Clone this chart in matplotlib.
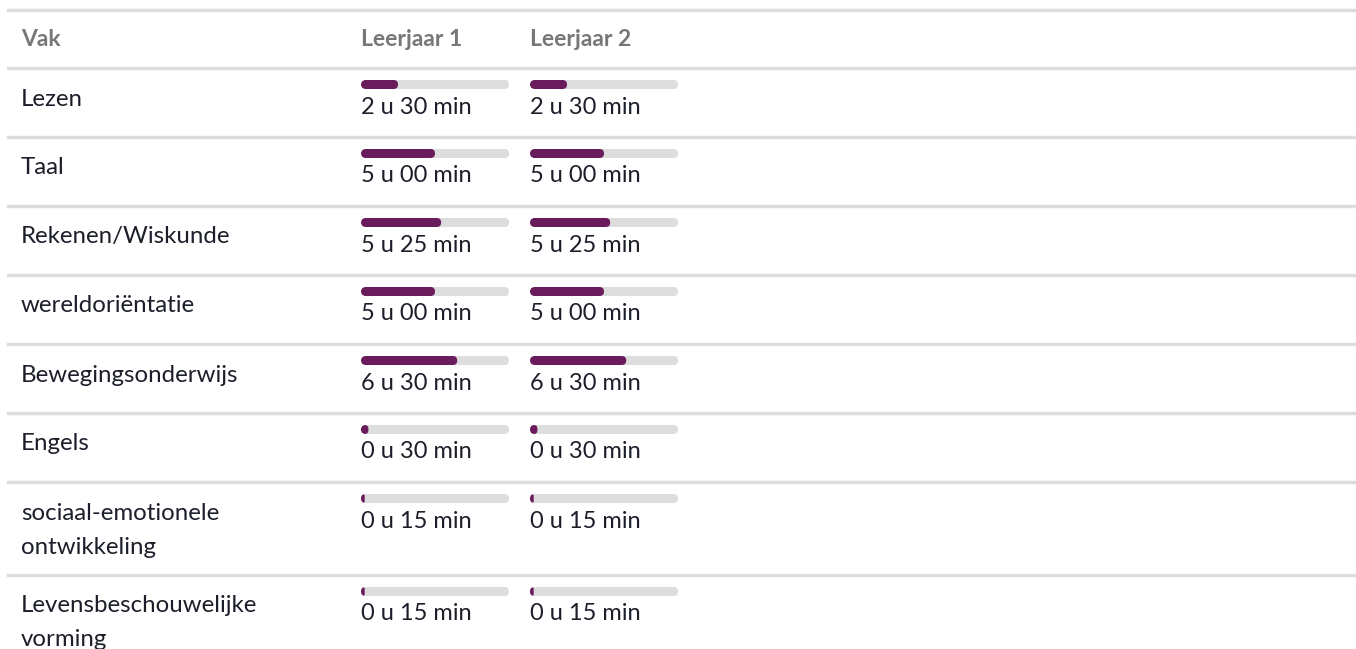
import matplotlib.pyplot as plt
from matplotlib.patches import FancyBboxPatch

# Data
subjects = ["Lezen", "Taal", "Rekenen/Wiskunde", "wereldoriëntatie",
            "Bewegingsonderwijs", "Engels", "sociaal-emotionele\nontwikkeling",
            "Levensbeschouwelijke\nvorming"]
columns = ["Leerjaar 1", "Leerjaar 2"]
year1_minutes = [150, 300, 325, 300, 390, 30, 15, 15]
year2_minutes = [150, 300, 325, 300, 390, 30, 15, 15]
max_minutes = 600

W, H = 1356, 649
PURPLE = "#6a1b5c"
TRACK = "#dddddd"
TEXT = "#1c1f2a"
HEAD = "#777777"
LINE = "#dddddd"
FONT = "Lato"


def fmt(m):
    return f"{m // 60} u {m % 60:02d} min"


def main():
    fig = plt.figure(figsize=(W / 100, H / 100), dpi=100)
    ax = fig.add_axes([0, 0, 1, 1])
    ax.set_xlim(0, W)
    ax.set_ylim(H, 0)
    ax.axis("off")

    col_x = [361, 530]
    track_w = 148
    bar_h = 9

    # header
    ax.axhline(10, xmin=8 / W, xmax=1, color=LINE, lw=2.5)
    ax.text(21, 39, "Vak", fontsize=16.5, fontweight="bold", color=HEAD,
            family=FONT, va="center")
    for cx, name in zip(col_x, columns):
        ax.text(cx, 39, name, fontsize=16.5, fontweight="bold", color=HEAD,
                family=FONT, va="center")

    # row positions
    tops = []
    y = 68
    for s in subjects:
        tops.append(y)
        y += 69 if "\n" not in s else 93

    col_axes = []
    for cx in col_x:
        cax = fig.add_axes([cx / W, 0, track_w / W, 1])
        cax.set_xlim(0, max_minutes)
        cax.set_ylim(H, 0)
        cax.axis("off")
        col_axes.append(cax)

    px_per_min = track_w / max_minutes
    radius = (bar_h / 2) / px_per_min

    for i, (s, top) in enumerate(zip(subjects, tops)):
        ax.axhline(top, xmin=8 / W, xmax=1, color=LINE, lw=2.5)
        for j, line in enumerate(s.split("\n")):
            ax.text(21, top + 31 + 34 * j, line, fontsize=17.3, color=TEXT,
                    family=FONT, va="center")
        for cax, vals, cx in zip(col_axes, [year1_minutes, year2_minutes], col_x):
            by = top + 12
            track = FancyBboxPatch((0, by), max_minutes, bar_h,
                                   boxstyle=f"round,pad=0,rounding_size={radius}",
                                   mutation_aspect=px_per_min,
                                   fc=TRACK, ec="none")
            cax.add_patch(track)
            v = vals[i]
            r = min(radius, v / 2)
            fill = FancyBboxPatch((0, by), v, bar_h,
                                  boxstyle=f"round,pad=0,rounding_size={r}",
                                  mutation_aspect=px_per_min,
                                  fc=PURPLE, ec="none")
            cax.add_patch(fill)
            fill.set_clip_path(track)
            ax.text(cx, top + 39, fmt(v), fontsize=17, color=TEXT,
                    family=FONT, va="center")

    fig.savefig("out.png", dpi=100)


if __name__ == "__main__":
    main()
